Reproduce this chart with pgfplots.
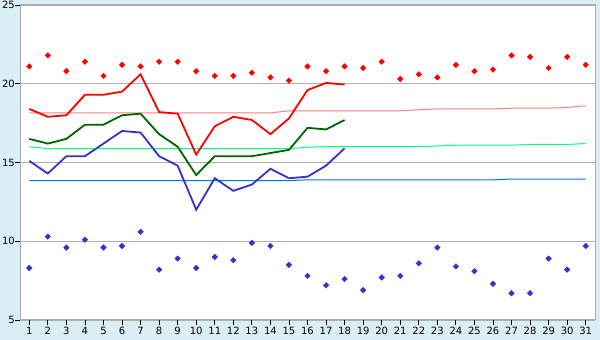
\documentclass[border=0pt]{standalone}
\usepackage{pgfplots}
\pgfplotsset{compat=1.18}
\usepackage{fontspec}
\setmainfont{DejaVu Sans}
\definecolor{bg}{RGB}{218,238,245}
\definecolor{frame}{RGB}{170,170,170}
\definecolor{gridc}{RGB}{176,176,176}
\definecolor{maxc}{RGB}{255,0,0}
\definecolor{meanc}{RGB}{0,100,0}
\definecolor{minc}{RGB}{51,51,204}
\definecolor{nmax}{RGB}{255,128,128}
\definecolor{nmean}{RGB}{0,255,128}
\definecolor{nmin}{RGB}{10,110,240}
\begin{document}
\begin{tikzpicture}[x=1pt,y=1pt]
\fill[bg] (0,0) rectangle (600,340);
\begin{axis}[
  at={(20pt,20pt)}, anchor=south west,
  scale only axis, width=575pt, height=315pt,
  xmin=0.5, xmax=31.5, ymin=5, ymax=25,
  xtick={1,...,31}, ytick={5,10,15,20,25},
  xtick pos=left, ytick pos=left,
  tick align=outside, major tick length=5pt,
  tick style={black, line width=0.8pt},
  axis background/.style={fill=white},
  axis line style={draw=frame, line width=1pt},
  ymajorgrids, grid style={gridc, line width=0.8pt},
  /pgf/number format/assume math mode=true,
  ticklabel style={font=\fontsize{10}{12}\selectfont, inner sep=0pt},
  xticklabel style={yshift=-2pt},
  yticklabel style={xshift=0pt},
  clip=false,
]
% normals
\addplot[nmax, line width=1pt] coordinates {
(1,18.15)(2,18.15)(3,18.15)(4,18.15)(5,18.15)(6,18.15)(7,18.15)(8,18.15)(9,18.15)(10,18.15)
(11,18.15)(12,18.15)(13,18.15)(14,18.15)(15,18.28)(16,18.28)(17,18.28)(18,18.28)(19,18.28)(20,18.28)
(21,18.28)(22,18.35)(23,18.4)(24,18.4)(25,18.4)(26,18.4)(27,18.45)(28,18.45)(29,18.45)(30,18.5)(31,18.6)};
\addplot[nmean, line width=1pt] coordinates {
(1,16.0)(2,15.88)(3,15.88)(4,15.88)(5,15.88)(6,15.88)(7,15.88)(8,15.88)(9,15.88)(10,15.88)
(11,15.88)(12,15.88)(13,15.88)(14,15.88)(15,15.88)(16,15.97)(17,16.0)(18,16.0)(19,16.0)(20,16.0)
(21,16.0)(22,16.0)(23,16.05)(24,16.1)(25,16.1)(26,16.1)(27,16.1)(28,16.15)(29,16.15)(30,16.15)(31,16.2)};
\addplot[nmin, line width=1pt] coordinates {
(1,13.85)(2,13.85)(3,13.85)(4,13.85)(5,13.85)(6,13.85)(7,13.85)(8,13.85)(9,13.85)(10,13.85)
(11,13.85)(12,13.85)(13,13.85)(14,13.85)(15,13.85)(16,13.9)(17,13.9)(18,13.9)(19,13.9)(20,13.9)
(21,13.9)(22,13.9)(23,13.9)(24,13.9)(25,13.9)(26,13.9)(27,13.95)(28,13.95)(29,13.95)(30,13.95)(31,13.95)};
% daily values
\addplot[maxc, line width=1.8pt] coordinates {
(1,18.4)(2,17.9)(3,18.0)(4,19.3)(5,19.3)(6,19.5)(7,20.6)(8,18.2)(9,18.1)(10,15.5)
(11,17.3)(12,17.9)(13,17.7)(14,16.8)(15,17.8)(16,19.6)(17,20.05)(18,19.95)};
\addplot[meanc, line width=1.8pt] coordinates {
(1,16.5)(2,16.2)(3,16.5)(4,17.4)(5,17.4)(6,18.0)(7,18.1)(8,16.8)(9,16.0)(10,14.2)
(11,15.4)(12,15.4)(13,15.4)(14,15.6)(15,15.8)(16,17.2)(17,17.1)(18,17.7)};
\addplot[minc, line width=1.8pt] coordinates {
(1,15.1)(2,14.3)(3,15.4)(4,15.4)(5,16.2)(6,17.0)(7,16.9)(8,15.4)(9,14.8)(10,12.0)
(11,14.0)(12,13.2)(13,13.6)(14,14.6)(15,14.0)(16,14.1)(17,14.8)(18,15.9)};
% records
\addplot[only marks, mark=diamond*, mark size=2.8pt, mark options={xscale=1.333, draw=maxc, fill=maxc}] coordinates {
(1,21.1)(2,21.8)(3,20.8)(4,21.4)(5,20.5)(6,21.2)(7,21.1)(8,21.4)(9,21.4)(10,20.8)
(11,20.5)(12,20.5)(13,20.7)(14,20.4)(15,20.2)(16,21.1)(17,20.8)(18,21.1)(19,21.0)(20,21.4)
(21,20.3)(22,20.6)(23,20.4)(24,21.2)(25,20.8)(26,20.9)(27,21.8)(28,21.7)(29,21.0)(30,21.7)(31,21.2)};
\addplot[only marks, mark=diamond*, mark size=2.8pt, mark options={xscale=1.333, draw=minc, fill=minc}] coordinates {
(1,8.3)(2,10.3)(3,9.6)(4,10.1)(5,9.6)(6,9.7)(7,10.6)(8,8.2)(9,8.9)(10,8.3)
(11,9.0)(12,8.8)(13,9.9)(14,9.7)(15,8.5)(16,7.8)(17,7.2)(18,7.6)(19,6.9)(20,7.7)
(21,7.8)(22,8.6)(23,9.6)(24,8.4)(25,8.1)(26,7.3)(27,6.7)(28,6.7)(29,8.9)(30,8.2)(31,9.7)};
\end{axis}
\end{tikzpicture}
\end{document}
